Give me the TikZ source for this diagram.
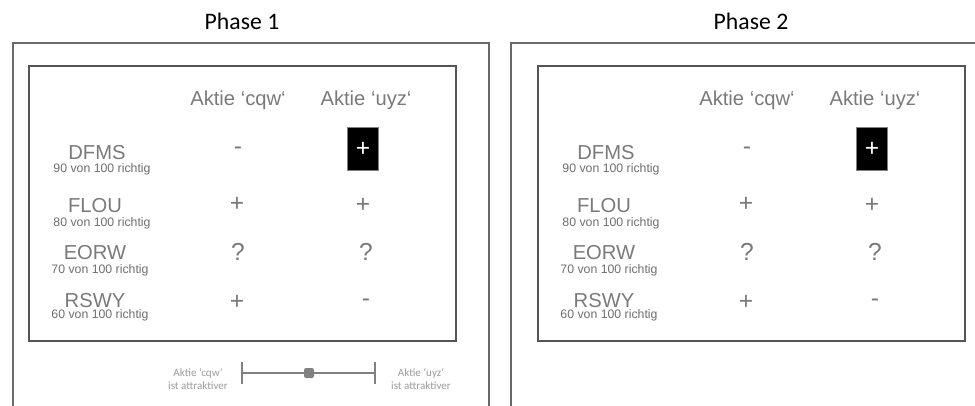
\documentclass[tikz,border=0pt]{standalone}
\usepackage{fontspec}
\setmainfont{Liberation Sans}
\newfontfamily\phasefont{Carlito}

\definecolor{framegray}{HTML}{6A6A6A}
\definecolor{panelgray}{HTML}{555555}
\definecolor{headgray}{HTML}{7A7A7A}
\definecolor{subgray}{HTML}{6E6E6E}
\definecolor{slidergray}{HTML}{808080}
\definecolor{notegray}{HTML}{9A9A9A}

\tikzset{
    framebox/.style={draw=framegray, line width=0.6pt},
    panelbox/.style={draw=panelgray, line width=0.8pt},
    headtext/.style={text=headgray, inner sep=0pt, anchor=base, font=\fontsize{11.5}{13}\selectfont},
    stocklabel/.style={text=headgray, inner sep=0pt, anchor=base, font=\fontsize{11.5}{13}\selectfont},
    hitrate/.style={text=subgray, inner sep=0pt, anchor=base, font=\fontsize{7}{8}\selectfont},
    signtext/.style={text=headgray, inner sep=0pt, font=\fontsize{14}{16}\selectfont},
    pickbox/.style={fill=black, draw=gray, line width=0.4pt, minimum width=0.62cm, minimum height=0.87cm, inner sep=0pt, text=white, font=\fontsize{14}{16}\selectfont},
    sliderline/.style={draw=slidergray, line width=1.1pt},
    knob/.style={fill=slidergray, rounded corners=1.2pt, minimum size=0.2cm, inner sep=0pt},
    notetext/.style={text=notegray, align=center, inner sep=0pt, font=\phasefont\fontsize{6.3}{7.2}\selectfont},
    phasetitle/.style={font=\phasefont\fontsize{13.5}{15}\selectfont}
}

% one table of stocks and advisers
\newcommand{\stockpanel}{%
    \draw[panelbox] (29,66) rectangle (456,341);
    % ==== COLUMN HEADS ====
    \node[headtext] (cqw) at (238,105) {Aktie ‘cqw‘};
    \node[headtext] (uyz) at (366,105) {Aktie ‘uyz‘};
    % ==== ADVISERS ====
    \node[stocklabel] (dfms) at (97,159) {DFMS};
    \node[hitrate] (dfmsrate) at (102,172) {90 von 100 richtig};
    \node[stocklabel] (flou) at (95,212) {FLOU};
    \node[hitrate] (flourate) at (102,226) {80 von 100 richtig};
    \node[stocklabel] (eorw) at (95,259) {EORW};
    \node[hitrate] (eorwrate) at (100,273) {70 von 100 richtig};
    \node[stocklabel] (rswy) at (95,307) {RSWY};
    \node[hitrate] (rswyrate) at (100,318) {60 von 100 richtig};
    % ==== RECOMMENDATIONS ====
    \node[signtext] (dfmscqw) at (238,151) {-};
    \node[pickbox] (dfmsuyz) at (363,149) {+};
    \node[signtext] (floucqw) at (237,204) {+};
    \node[signtext] (flouuyz) at (363,205) {+};
    \node[signtext] (eorwcqw) at (238,252) {?};
    \node[signtext] (eorwuyz) at (366,252) {?};
    \node[signtext] (rswycqw) at (237,302) {+};
    \node[signtext] (rswyuyz) at (366,303) {-};
}

\begin{document}
\begin{tikzpicture}[x=0.02cm, y=-0.02cm]
    \useasboundingbox (0,0) rectangle (975,406);
    \clip (0,0) rectangle (975,406);

    % ==== PHASE 1 ====
    \node[phasetitle] (phase1) at (242,21) {Phase 1};
    \draw[framebox] (13,412) |- (489,43) -- (489,412);
    \begin{scope}[name prefix=one-]
        \stockpanel
    \end{scope}
    % slider below the table
    \coordinate (sleft) at (242,373);
    \coordinate (sright) at (375,373);
    \draw[sliderline] (sleft) -- (sright);
    \draw[sliderline] (sleft) ++(0,-11) -- ++(0,22);
    \draw[sliderline] (sright) ++(0,-11) -- ++(0,22);
    \node[knob] (knob) at (309,373) {};
    \node[notetext] (leftnote) at (198,379) {Aktie ‘cqw‘\\ist attraktiver};
    \node[notetext] (rightnote) at (421,379) {Aktie ‘uyz‘\\ist attraktiver};

    % ==== PHASE 2 ====
    \node[phasetitle] (phase2) at (751,21) {Phase 2};
    \draw[framebox] (511,412) |- (985,43);
    \begin{scope}[shift={(509,0)}, name prefix=two-]
        \stockpanel
    \end{scope}
\end{tikzpicture}
\end{document}
